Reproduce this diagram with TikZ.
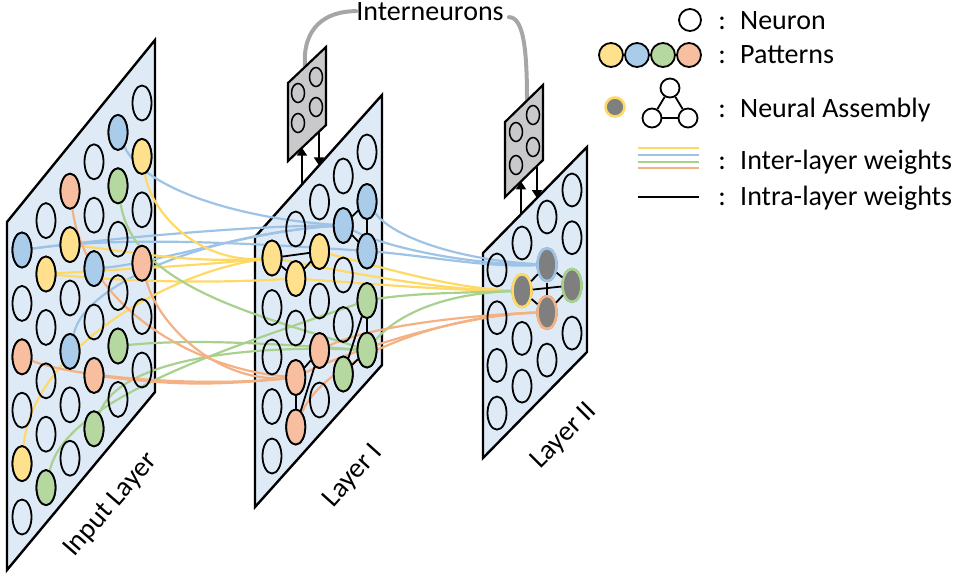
\documentclass[tikz,border=0pt]{standalone}
\usepackage{fontspec}
\setmainfont{Carlito}
\usetikzlibrary{shapes.geometric,arrows.meta}
\definecolor{cpanel}{HTML}{DEEBF7}
\definecolor{cy}{HTML}{FFE08C}
\definecolor{cb}{HTML}{A9CCEB}
\definecolor{cg}{HTML}{B5D8A0}
\definecolor{co}{HTML}{F7BFA0}
\definecolor{ly}{HTML}{FFD966}
\definecolor{lb}{HTML}{9DC3E6}
\definecolor{lg}{HTML}{A9D18E}
\definecolor{lo}{HTML}{F4B183}
\definecolor{cdark}{HTML}{7F7F7F}
\definecolor{cbox}{HTML}{C9C9CC}
\definecolor{cgray}{HTML}{A6A6A6}
\pgfdeclarelayer{back}
\pgfdeclarelayer{mid}
\pgfsetlayers{back,mid,main}
\begin{document}
\begin{tikzpicture}[x=1pt,y=-1pt,
  panel/.style={fill=cpanel,draw=black,line width=2.4pt,line join=miter},
  neu/.style={ellipse,draw=black,line width=1.8pt,minimum width=19pt,minimum height=35pt,inner sep=0pt},
  neuii/.style={neu,minimum height=33pt},
  dk/.style={neuii,fill=cdark,line width=2.6pt},
  inn/.style={ellipse,draw=black,line width=1.5pt,minimum width=13pt,minimum height=19pt,inner sep=0pt,fill=cbox},
  ibox/.style={fill=cbox,draw=black,line width=2.2pt,line join=miter},
  intra/.style={draw=black,line width=1.8pt},
  wy/.style={draw=ly,line width=2.2pt},
  wb/.style={draw=lb,line width=2.2pt},
  wg/.style={draw=lg,line width=2.2pt},
  wo/.style={draw=lo,line width=2.2pt},
  arr/.style={draw=black,line width=1.8pt,-{Triangle[length=8pt,width=10pt]}},
  gcurve/.style={draw=cgray,line width=4pt,line cap=round},
  txt/.style={font=\fontsize{28}{33}\selectfont,inner sep=0pt},
  lc/.style={circle,draw=black,line width=1.8pt,inner sep=0pt}
]
\useasboundingbox (0,0) rectangle (957,582);

% ---------- panels ----------
\begin{pgfonlayer}{back}
\draw[panel] (7,222) -- (155,40) -- (155,392) -- (7,570) -- cycle;
\draw[panel] (255,237) -- (382,95) -- (382,365) -- (255,507) -- cycle;
\draw[panel] (483,253) -- (587,147) -- (587,352) -- (483,458) -- cycle;
\end{pgfonlayer}

% ---------- input layer neurons ----------
\foreach \c in {1,...,6}{
  \foreach \r in {1,...,6}{
    \node[neu] (i\c\r) at ({22+24*(\c-1)},{250-29.4*(\c-1)+53.4*(\r-1)}) {};
  }
}
\foreach \n/\px/\py/\col in {i51/118/132.4/cb, i11/22/250/cb, i43/94/268.6/cb, i34/70/351.4/cb,
  i62/142/156.4/cy, i32/70/244.6/cy, i22/46/274/cy, i15/22/463.6/cy,
  i52/118/185.8/cg, i55/118/346/cg, i46/94/428.8/cg, i26/46/487.6/cg,
  i31/70/191.2/co, i64/142/263.2/co, i13/22/356.8/co, i44/94/375.4/co}
  \node[neu,fill=\col] (\n) at (\px,\py) {};

% ---------- layer I neurons ----------
\foreach \c/\t in {1/258,2/229,3/202,4/176,5/152}{
  \foreach \r in {1,...,5}{
    \node[neu] (a\c\r) at ({272+23.75*(\c-1)},{\t+49.5*(\r-1)}) {};
  }
}
\foreach \n/\px/\py/\col in {a11/272/258/cy, a32/319.5/251.5/cy, a22/295.75/278.5/cy,
  a52/367/201.5/cb, a42/343.25/225.5/cb, a53/367/251/cb,
  a54/367/300.5/cg, a55/367/350/cg, a45/343.25/374/cg,
  a34/319.5/350.5/co, a24/295.75/377.5/co, a25/295.75/427/co}
  \node[neu,fill=\col] (\n) at (\px,\py) {};

% ---------- layer II neurons ----------
\foreach \c/\t in {1/270,2/243,3/217,4/190}{
  \foreach \r in {1,...,4}{
    \node[neuii] (b\c\r) at ({497+25*(\c-1)},{\t+47.7*(\r-1)}) {};
  }
}
\node[dk,draw=lb] (b32) at (547,264.7) {};
\node[dk,draw=ly] (b22) at (522,290.7) {};
\node[dk,draw=lg] (b43) at (572,285.4) {};
\node[dk,draw=lo] (b33) at (547,312.4) {};

% ---------- intra-layer weights ----------
\draw[intra] (a11) -- (a32); \draw[intra] (a11) -- (a22); \draw[intra] (a22) -- (a32);
\draw[intra] (a52) -- (a42); \draw[intra] (a42) -- (a53); \draw[intra] (a52) -- (a53);
\draw[intra] (a34) -- (a24); \draw[intra] (a24) -- (a25); \draw[intra] (a34) -- (a25);
\draw[intra] (a54) -- (a55); \draw[intra] (a55) -- (a45); \draw[intra] (a54) -- (a45);
\draw[intra] (b32) -- (b22); \draw[intra] (b32) -- (b43); \draw[intra] (b22) -- (b33);
\draw[intra] (b43) -- (b33); \draw[intra] (b22) -- (b43); \draw[intra] (b32) -- (b33);

% ---------- inter-layer weights ----------
\begin{pgfonlayer}{mid}
% input -> layer I
\draw[wb] (i51) .. controls +(25,55) and +(-110,-8) .. (a42);
\draw[wb] (i11) .. controls +(90,-12) and +(-90,0) .. (a42);
\draw[wb] (i11) .. controls +(100,-14) and +(-120,-8) .. (a53);
\draw[wb] (i43) .. controls +(60,-5) and +(-90,5) .. (a42);
\draw[wb] (i34) .. controls +(15,-70) and +(-130,8) .. (a42);
\draw[wy] (i62) .. controls +(10,60) and +(-70,5) .. (a11);
\draw[wy] (i32) .. controls +(80,10) and +(-80,5) .. (a11);
\draw[wy] (i22) .. controls +(80,-5) and +(-80,8) .. (a11);
\draw[wy] (i15) .. controls +(10,-110) and +(-110,15) .. (a11);
\draw[wy] (i22) .. controls +(90,8) and +(-90,5) .. (a22);
\draw[wg] (i52) .. controls +(15,100) and +(-110,-35) .. (a55);
\draw[wg] (i55) .. controls +(80,-8) and +(-80,-5) .. (a55);
\draw[wg] (i46) .. controls +(25,-70) and +(-120,-5) .. (a55);
\draw[wg] (i26) .. controls +(20,-90) and +(-130,45) .. (a54);
\draw[wo] (i31) .. controls +(15,110) and +(-110,-10) .. (a24);
\draw[wo] (i64) .. controls +(15,60) and +(-80,5) .. (a24);
\draw[wo] (i13) .. controls +(50,20) and +(-100,10) .. (a24);
\draw[wo] (i44) .. controls +(80,10) and +(-80,8) .. (a24);
% layer I -> layer II
\draw[wb] (a52) .. controls +(25,35) and +(-90,-5) .. (b32);
\draw[wb] (a53) .. controls +(60,5) and +(-60,3) .. (b32);
\draw[wb] (a42) .. controls +(50,25) and +(-70,0) .. (b32);
\draw[wy] (a32) .. controls +(60,15) and +(-70,-2) .. (b22);
\draw[wy] (a22) .. controls +(70,5) and +(-70,0) .. (b22);
\draw[wy] (a11) .. controls +(80,15) and +(-80,0) .. (b22);
\draw[wg] (a54) .. controls +(50,-8) and +(-50,2) .. (b22);
\draw[wg] (a55) .. controls +(30,-35) and +(-80,3) .. (b22);
\draw[wo] (a34) .. controls +(50,-25) and +(-70,2) .. (b33);
\draw[wo] (a24) .. controls +(60,-30) and +(-80,2) .. (b33);
\draw[wo] (a25) .. controls +(30,-70) and +(-100,2) .. (b33);
\end{pgfonlayer}

% ---------- interneurons ----------
\node[txt,anchor=base] (lab) at (430,20) {Interneurons};
\coordinate (g1) at (305,67);
\coordinate (g2) at (527,101);
\begin{pgfonlayer}{mid}
\draw[gcurve] (g1) .. controls +(-3,-40) and +(-30,0) .. (lab.west);
\draw[gcurve] ([shift={(5,6)}]lab.east) .. controls +(15,0) and +(0,-50) .. (g2);
\end{pgfonlayer}
\draw[ibox] (288,83) -- (326,47) -- (326,125) -- (288,161) -- cycle;
\node[inn] (n11) at (316,77) {};
\node[inn] (n12) at (298,93) {};
\node[inn] (n13) at (316,107) {};
\node[inn] (n14) at (298,123) {};
\draw[ibox] (505,122) -- (543,85) -- (543,160) -- (505,197) -- cycle;
\node[inn] (n21) at (533,115) {};
\node[inn] (n22) at (516,132) {};
\node[inn] (n23) at (533,147) {};
\node[inn] (n24) at (516,165) {};
\coordinate (u1s) at (302,184.4); \coordinate (u1e) at (302,147.7);
\coordinate (d1s) at (319,131.6); \coordinate (d1e) at (319,165.4);
\coordinate (u2s) at (521,214.3); \coordinate (u2e) at (521,181.4);
\coordinate (d2s) at (537,165.8); \coordinate (d2e) at (537,198);
\draw[arr] (u1s) -- (u1e);
\draw[arr] (d1s) -- (d1e);
\draw[arr] (u2s) -- (u2e);
\draw[arr] (d2s) -- (d2e);

% ---------- layer labels ----------
\node[txt,rotate=49] (linp) at (111,505) {Input Layer};
\node[txt,rotate=48] (l1) at (353,476) {Layer I};
\node[txt,rotate=45] (l2) at (564,436) {Layer II};

% ---------- legend ----------
\node[lc,fill=white,minimum size=22pt] (lneu) at (690,20) {};
\node[lc,fill=cy,minimum size=24pt] (lp1) at (611,55) {};
\node[lc,fill=cb,minimum size=24pt] (lp2) at (637,55) {};
\node[lc,fill=cg,minimum size=24pt] (lp3) at (663,55) {};
\node[lc,fill=co,minimum size=24pt] (lp4) at (689,55) {};
\node[circle,fill=cdark,draw=ly,line width=2.6pt,minimum size=19pt,inner sep=0pt] (lasm) at (615,107) {};
\node[lc,fill=white,minimum size=19pt] (lt) at (670,88) {};
\node[lc,fill=white,minimum size=19pt] (lbl) at (652,118) {};
\node[lc,fill=white,minimum size=19pt] (lbr) at (688,118) {};
\draw[intra] (lt) -- (lbl); \draw[intra] (lt) -- (lbr); \draw[intra] (lbl) -- (lbr);
\coordinate (w1a) at (638,148); \coordinate (w1b) at (699,148);
\coordinate (w2a) at (638,155); \coordinate (w2b) at (699,155);
\coordinate (w3a) at (638,162); \coordinate (w3b) at (699,162);
\coordinate (w4a) at (638,168); \coordinate (w4b) at (699,168);
\coordinate (w5a) at (638,197); \coordinate (w5b) at (699,197);
\draw[ly,line width=1.8pt] (w1a) -- (w1b);
\draw[lb,line width=1.8pt] (w2a) -- (w2b);
\draw[lg,line width=1.8pt] (w3a) -- (w3b);
\draw[lo,line width=1.8pt] (w4a) -- (w4b);
\draw[black,line width=1.8pt] (w5a) -- (w5b);
\foreach \k/\yb in {1/29,2/63,3/117,4/169,5/205}
  \node[txt,anchor=base] (col\k) at (722,\yb) {:};
\node[txt,anchor=base west] (t1) at (740,29) {Neuron};
\node[txt,anchor=base west] (t2) at (740,63) {Patterns};
\node[txt,anchor=base west] (t3) at (740,117) {Neural Assembly};
\node[txt,anchor=base west] (t4) at (740,169) {Inter-layer weights};
\node[txt,anchor=base west] (t5) at (740,205) {Intra-layer weights};
\end{tikzpicture}
\end{document}
